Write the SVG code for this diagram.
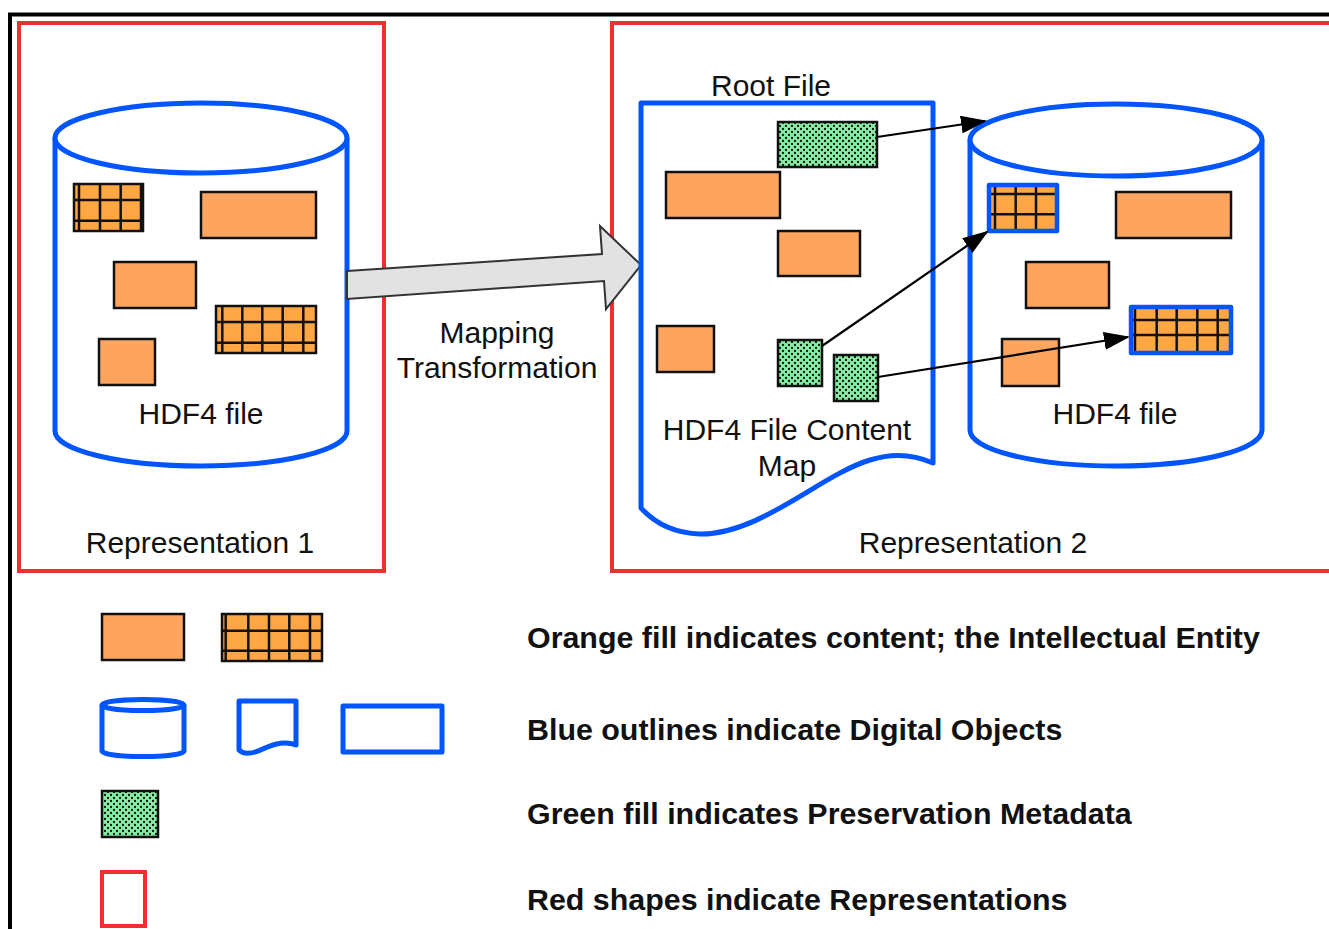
<svg xmlns="http://www.w3.org/2000/svg" width="1329" height="929" viewBox="0 0 1329 929">
<defs>
<style>
.txt{font-family:"Liberation Sans",Arial,sans-serif;font-size:30px;fill:#111;text-anchor:middle}
.leg{font-family:"Liberation Sans",Arial,sans-serif;font-size:30.4px;font-weight:bold;fill:#111}
.rep{fill:none;stroke:#F03030;stroke-width:4}
.blue{fill:#fff;stroke:#0055FF;stroke-width:5;stroke-linejoin:round}
.blueo{fill:none;stroke:#0055FF;stroke-width:5;stroke-linejoin:round}
.or{fill:#FDA45F;stroke:#111;stroke-width:2.5}
.org{fill:#FFA645}
.gl{stroke:#111;stroke-width:2.5}
.grn{fill:url(#gp);stroke:#111;stroke-width:2.5}
.con{stroke:#000;stroke-width:2.2;fill:none;marker-end:url(#ah)}
</style>
<pattern id="gp" width="6" height="6" patternUnits="userSpaceOnUse">
<rect width="6" height="6" fill="#86EEA2"/>
<circle cx="0" cy="0" r="1.15" fill="#111"/><circle cx="6" cy="0" r="1.15" fill="#111"/>
<circle cx="0" cy="6" r="1.15" fill="#111"/><circle cx="6" cy="6" r="1.15" fill="#111"/>
<circle cx="3" cy="3" r="1.15" fill="#111"/>
</pattern>
<marker id="ah" markerWidth="26" markerHeight="18" refX="24" refY="9" orient="auto" markerUnits="userSpaceOnUse">
<path d="M0,0 L26,9 L0,18 Z" fill="#000"/>
</marker>
</defs>
<rect width="1329" height="929" fill="#fff"/>
<g id="frame">
<path d="M10,929 V14.5 H1329" fill="none" stroke="#000" stroke-width="4"/>
</g>
<g id="rep1">
<rect class="rep" x="19" y="23" width="365" height="548"/>
<text class="txt" x="200" y="553">Representation 1</text>
</g>
<g id="rep2">
<rect class="rep" x="612" y="23" width="725" height="548"/>
<text class="txt" x="973" y="553">Representation 2</text>
</g>
<g id="cyl1">
<path class="blue" d="M55,138 V431 A146,35 0 0 0 347,431 V138"/>
<ellipse class="blue" cx="201" cy="138" rx="146" ry="35"/>
<g>
<rect class="org" x="74" y="184" width="69" height="47"/>
<path class="gl" d="M79,184V231M100,184V231M120.7,184V231M141,184V231M74,200H143M74,220.7H143"/>
<rect x="74" y="184" width="69" height="47" fill="none" stroke="#111" stroke-width="2.5"/>
</g>
<rect class="or" x="201" y="192" width="115" height="46"/>
<rect class="or" x="114" y="262" width="82" height="46"/>
<g>
<rect class="org" x="216" y="306" width="100" height="47"/>
<path class="gl" d="M222.3,306V353M242.3,306V353M262.3,306V353M282.7,306V353M303.3,306V353M216,322H316M216,342.7H316"/>
<rect x="216" y="306" width="100" height="47" fill="none" stroke="#111" stroke-width="2.5"/>
</g>
<rect class="or" x="99" y="339" width="56" height="46"/>
<text class="txt" x="201" y="424">HDF4 file</text>
</g>
<g id="mapping">
<polygon points="347,271 602,254 600,226 641,265 606,309 604,281 347,299" fill="#E2E2E2" stroke="#333" stroke-width="2" stroke-linejoin="miter"/>
<text class="txt" x="497" y="343">Mapping</text>
<text class="txt" x="497" y="378">Transformation</text>
</g>
<g id="rootfile">
<text class="txt" x="771" y="96">Root File</text>
<path class="blue" d="M641,103 H933 V463 C915,455 895,452 870,460 C820,475 760,535 700,534 C670,533 652,520 641,508 Z"/>
<rect class="grn" x="778" y="122" width="99" height="45"/>
<rect class="or" x="666" y="172" width="114" height="46"/>
<rect class="or" x="778" y="231" width="82" height="45"/>
<rect class="or" x="657" y="326" width="57" height="46"/>
<rect class="grn" x="778" y="340" width="44" height="46"/>
<rect class="grn" x="834" y="355" width="44" height="46"/>
<text class="txt" x="787" y="440">HDF4 File Content</text>
<text class="txt" x="787" y="476">Map</text>
</g>
<g id="cyl2">
<path class="blue" d="M970,140 V430 A146,36 0 0 0 1262,430 V140"/>
<ellipse class="blue" cx="1116" cy="140" rx="146" ry="36"/>
<g>
<rect class="org" x="989" y="185" width="68" height="46"/>
<path class="gl" d="M995,185V231M1015.7,185V231M1036,185V231M989,194H1057M989,214.3H1057"/>
<rect x="989" y="185" width="68" height="46" fill="none" stroke="#0055FF" stroke-width="4.5" stroke-linejoin="round"/>
</g>
<rect class="or" x="1116" y="192" width="115" height="46"/>
<rect class="or" x="1026" y="262" width="83" height="46"/>
<rect class="or" x="1002" y="339" width="57" height="47"/>
<g>
<rect class="org" x="1131" y="307" width="100" height="46"/>
<path class="gl" d="M1135,307V353M1156.7,307V353M1176.7,307V353M1197.3,307V353M1217.7,307V353M1131,320H1231M1131,335H1231"/>
<rect x="1131" y="307" width="100" height="46" fill="none" stroke="#0055FF" stroke-width="4.5" stroke-linejoin="round"/>
</g>
<text class="txt" x="1115" y="424">HDF4 file</text>
</g>
<g id="connectors">
<line class="con" x1="877" y1="137" x2="985" y2="121"/>
<line class="con" x1="822" y1="346" x2="987" y2="232"/>
<line class="con" x1="878" y1="377" x2="1128" y2="337"/>
</g>
<g id="legend-orange">
<rect class="or" x="102" y="614" width="82" height="46"/>
<rect class="org" x="222" y="614" width="100" height="47"/>
<path class="gl" d="M225.7,614V661M248.3,614V661M269,614V661M289.3,614V661M310,614V661M222,630.7H322M222,650.7H322"/>
<rect x="222" y="614" width="100" height="47" fill="none" stroke="#111" stroke-width="2.5"/>
<text class="leg" x="527" y="648">Orange fill indicates content; the Intellectual Entity</text>
</g>
<g id="legend-blue">
<path class="blue" d="M102,705 V751 A41,5.5 0 0 0 184,751 V705"/>
<ellipse class="blue" cx="143" cy="705" rx="41" ry="5.5"/>
<path class="blue" d="M239,701 H296 V745 C286,741 276,743 265,748 C255,753 245,756 239,750 Z"/>
<rect class="blueo" x="343" y="706" width="99" height="46"/>
<text class="leg" x="527" y="740">Blue outlines indicate Digital Objects</text>
</g>
<g id="legend-green">
<rect class="grn" x="102" y="791" width="56" height="46"/>
<text class="leg" x="527" y="824">Green fill indicates Preservation Metadata</text>
</g>
<g id="legend-red">
<rect class="rep" x="102" y="872" width="43" height="54"/>
<text class="leg" x="527" y="910">Red shapes indicate Representations</text>
</g>
</svg>
